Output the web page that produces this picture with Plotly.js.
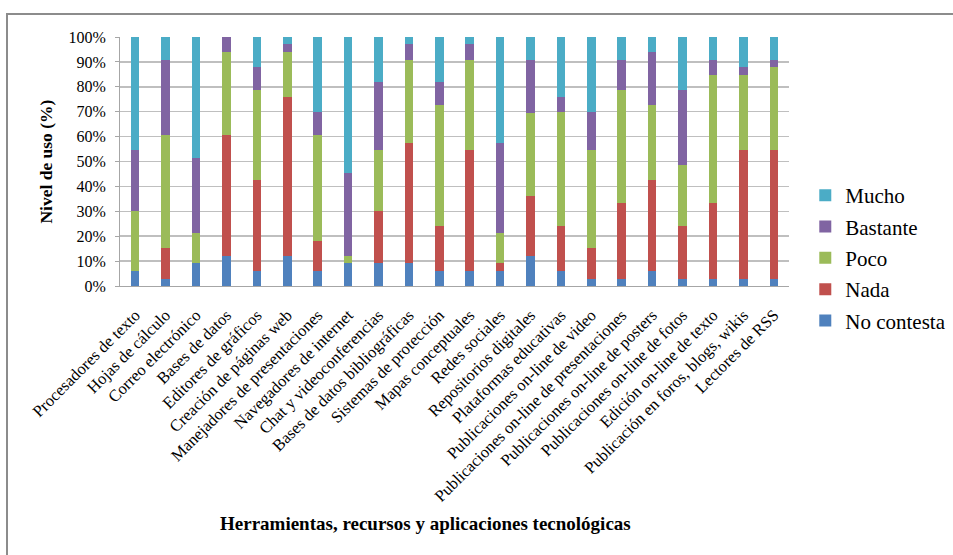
<!DOCTYPE html>
<html>
<head>
<meta charset="utf-8">
<script src="https://cdn.plot.ly/plotly-3.0.1.min.js"></script>
<style>
  html, body { margin: 0; padding: 0; background: #fff; }
  #wrap { position: relative; width: 953px; height: 555px; overflow: hidden; }
  #frame { position: absolute; left: 6px; top: 13px; width: 1000px; height: 600px;
           border-left: 2px solid #8c8c8c; border-top: 2px solid #8c8c8c; pointer-events: none; }
  #chart { position: absolute; left: 0; top: 0; width: 953px; height: 555px; }
</style>
</head>
<body>
<div id="wrap">
  <div id="chart"></div>
  <div id="frame"></div>
</div>
<script>
const categories = [
  "Procesadores de texto", "Hojas de cálculo", "Correo electrónico", "Bases de datos",
  "Editores de gráficos", "Creación de páginas web", "Manejadores de presentaciones",
  "Navegadores de internet", "Chat y videoconferencias", "Bases de datos bibliográficas",
  "Sistemas de protección", "Mapas conceptuales", "Redes sociales", "Repositorios digitales",
  "Plataformas educativas", "Publicaciones on-line de video",
  "Publicaciones on-line de presentaciones", "Publicaciones on-line de posters",
  "Publicaciones on-line de fotos", "Edición on-line de texto",
  "Publicación en foros, blogs, wikis", "Lectores de RSS"
];

// Percentages
const noContesta = [6.1, 3.0, 9.1, 12.1, 6.1, 12.1, 6.1, 9.1, 9.1, 9.1, 6.1, 6.1, 6.1, 12.1, 6.1, 3.0, 3.0, 6.1, 3.0, 3.0, 3.0, 3.0];
const nada       = [0, 12.1, 0, 48.5, 36.4, 63.6, 12.1, 0, 21.2, 48.5, 18.2, 48.5, 3.0, 24.2, 18.2, 12.1, 30.3, 36.4, 21.2, 30.3, 51.5, 51.5];
const poco       = [24.2, 45.5, 12.1, 33.3, 36.4, 18.2, 42.4, 3.0, 24.2, 33.3, 48.5, 36.4, 12.1, 33.3, 45.5, 39.4, 45.5, 30.3, 24.2, 51.5, 30.3, 33.3];
const bastante   = [24.2, 30.3, 30.3, 6.1, 9.1, 3.0, 9.1, 33.3, 27.3, 6.1, 9.1, 6.1, 36.4, 21.2, 6.1, 15.2, 12.1, 21.2, 30.3, 6.1, 3.0, 3.0];
const mucho      = [45.5, 9.1, 48.5, 0, 12.1, 3.0, 30.3, 54.5, 18.2, 3.0, 18.2, 3.0, 42.4, 9.1, 24.2, 30.3, 9.1, 6.1, 21.2, 9.1, 12.1, 9.1];

const seriesNames = ["No contesta", "Nada", "Poco", "Bastante", "Mucho"];
const seriesData = [noContesta, nada, poco, bastante, mucho];
const seriesColors = ["#4F81BD", "#C0504D", "#9BBB59", "#8064A2", "#4BACC6"];

const traces = seriesNames.map((name, i) => ({
  type: "bar",
  name: name,
  x: categories,
  y: seriesData[i],
  marker: { color: seriesColors[i], line: { width: 0 } },
  legendgroup: "g" + i,
  legendrank: 100 - i,
  hoverinfo: "x+y+name"
}));

const serif = "'Liberation Serif', 'Times New Roman', serif";

const layout = {
  width: 953,
  height: 555,
  paper_bgcolor: "#ffffff",
  plot_bgcolor: "#ffffff",
  font: { family: serif, color: "#000" },
  barmode: "stack",
  barnorm: "percent",
  bargap: 0.72,
  margin: { l: 120, r: 164, t: 37, b: 269, pad: 0, autoexpand: false },
  showlegend: true,
  legend: {
    xref: "container", yref: "container",
    x: 0.845, xanchor: "left",
    y: 0.535, yanchor: "middle",
    traceorder: "grouped",
    tracegroupgap: 1,
    font: { family: serif, size: 21, color: "#000" },
    itemwidth: 30,
    bgcolor: "rgba(0,0,0,0)"
  },
  xaxis: {
    type: "category",
    tickangle: -45,
    tickfont: { family: serif, size: 16.5, color: "#000" },
    ticklabelstandoff: 12,
    showline: true, linecolor: "#a6a6a6", linewidth: 1,
    ticks: "", showgrid: false,
    automargin: false
  },
  yaxis: {
    range: [0, 100],
    tickvals: [0, 10, 20, 30, 40, 50, 60, 70, 80, 90, 100],
    ticktext: ["0%", "10%", "20%", "30%", "40%", "50%", "60%", "70%", "80%", "90%", "100%"],
    tickfont: { family: serif, size: 16, color: "#000" },
    ticklabelstandoff: 6,
    showline: true, linecolor: "#a6a6a6", linewidth: 1,
    showgrid: true, gridcolor: "#bfbfbf", gridwidth: 1.5,
    ticks: "outside", ticklen: 4, tickcolor: "#a6a6a6",
    zeroline: false,
    automargin: false
  },
  annotations: [
    {
      text: "<b>Nivel de uso (%)</b>",
      xref: "paper", yref: "paper",
      x: -0.112, y: 0.5, xanchor: "center", yanchor: "middle",
      textangle: -90, showarrow: false,
      font: { family: serif, size: 17.5, color: "#000" }
    },
    {
      text: "<b>Herramientas, recursos y aplicaciones tecnológicas</b>",
      xref: "paper", yref: "paper",
      x: 0.456, y: -0.952, xanchor: "center", yanchor: "middle",
      showarrow: false,
      font: { family: serif, size: 19, color: "#000" }
    }
  ]
};

Plotly.newPlot("chart", traces, layout, { displayModeBar: false, staticPlot: true });
</script>
</body>
</html>
